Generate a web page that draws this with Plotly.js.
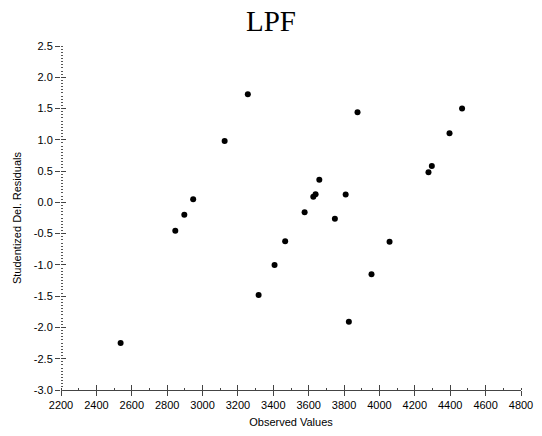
<!DOCTYPE html>
<html>
<head>
<meta charset="utf-8">
<script src="https://cdn.plot.ly/plotly-3.0.1.min.js"></script>
<style>html,body{margin:0;padding:0;background:#fff;}#chart{width:542px;height:436px;}</style>
</head>
<body>
<div id="chart"></div>
<script>
var observedValues = [2537, 2846, 2897, 2947, 3125, 3256, 3317, 3407, 3467, 3577, 3626, 3639, 3660, 3748, 3809, 3827, 3876, 3955, 4057, 4277, 4296, 4396, 4467];
var studentizedResiduals = [-2.25, -0.455, -0.20, 0.05, 0.98, 1.73, -1.48, -1.00, -0.62, -0.157, 0.09, 0.13, 0.36, -0.26, 0.125, -1.91, 1.44, -1.15, -0.63, 0.48, 0.58, 1.105, 1.50];
var xTickValues = [2200, 2400, 2600, 2800, 3000, 3200, 3400, 3600, 3800, 4000, 4200, 4400, 4600, 4800];
var yTickValues = [-3.0, -2.5, -2.0, -1.5, -1.0, -0.5, 0.0, 0.5, 1.0, 1.5, 2.0, 2.5];
var yTickLabels = yTickValues.map(function(v){return v.toFixed(1);});

var font = {family: 'Liberation Sans, Arial, sans-serif', size: 11, color: '#000'};

var trace = {
  x: observedValues,
  y: studentizedResiduals,
  mode: 'markers',
  type: 'scatter',
  marker: {color: '#000', size: 6},
  hoverinfo: 'x+y'
};
var dummy = {x: [2200], y: [2.5], xaxis: 'x2', yaxis: 'y2', mode: 'markers', marker: {opacity: 0}, hoverinfo: 'skip', showlegend: false};

var layout = {
  width: 542, height: 436,
  margin: {l: 61, r: 21, t: 46, b: 46},
  paper_bgcolor: '#fff', plot_bgcolor: '#fff',
  showlegend: false,
  title: {text: 'LPF', font: {family: 'Liberation Serif, Times New Roman, serif', size: 29, color: '#000'}, x: 0.5, xanchor: 'center', y: 0.953, yanchor: 'middle'},
  xaxis: {
    range: [2200, 4800], tickvals: xTickValues, ticktext: xTickValues.map(String),
    showgrid: false, zeroline: false, showline: true, linecolor: '#444', linewidth: 1,
    ticks: 'outside', ticklen: 5, tickcolor: '#444', tickfont: font,
    minor: {dtick: 100, ticks: 'inside', ticklen: 2, tickcolor: '#444', showgrid: false},
    title: {text: 'Observed Values', font: font, standoff: 8}
  },
  yaxis: {
    range: [-3.0, 2.5], tickvals: yTickValues, ticktext: yTickLabels,
    showgrid: false, zeroline: false, showline: false,
    ticks: 'outside', ticklen: 5, tickcolor: '#444', tickfont: font,
    minor: {dtick: 0.05, ticks: 'inside', ticklen: 2, tickcolor: '#555', showgrid: false},
    title: {text: 'Studentized Del. Residuals', font: font, standoff: 9}
  },
  xaxis2: {
    overlaying: 'x', range: [2200, 4800], tickvals: xTickValues, showticklabels: false,
    showgrid: false, zeroline: false, showline: false, ticks: 'inside', ticklen: 5, tickcolor: '#444', anchor: 'y'
  },
  yaxis2: {
    overlaying: 'y', range: [-3.0, 2.5], tickvals: yTickValues, showticklabels: false,
    showgrid: false, zeroline: false, showline: false, ticks: 'inside', ticklen: 5, tickcolor: '#444', anchor: 'x'
  }
};

Plotly.newPlot('chart', [trace, dummy], layout, {displayModeBar: false, staticPlot: true});
</script>
</body>
</html>
